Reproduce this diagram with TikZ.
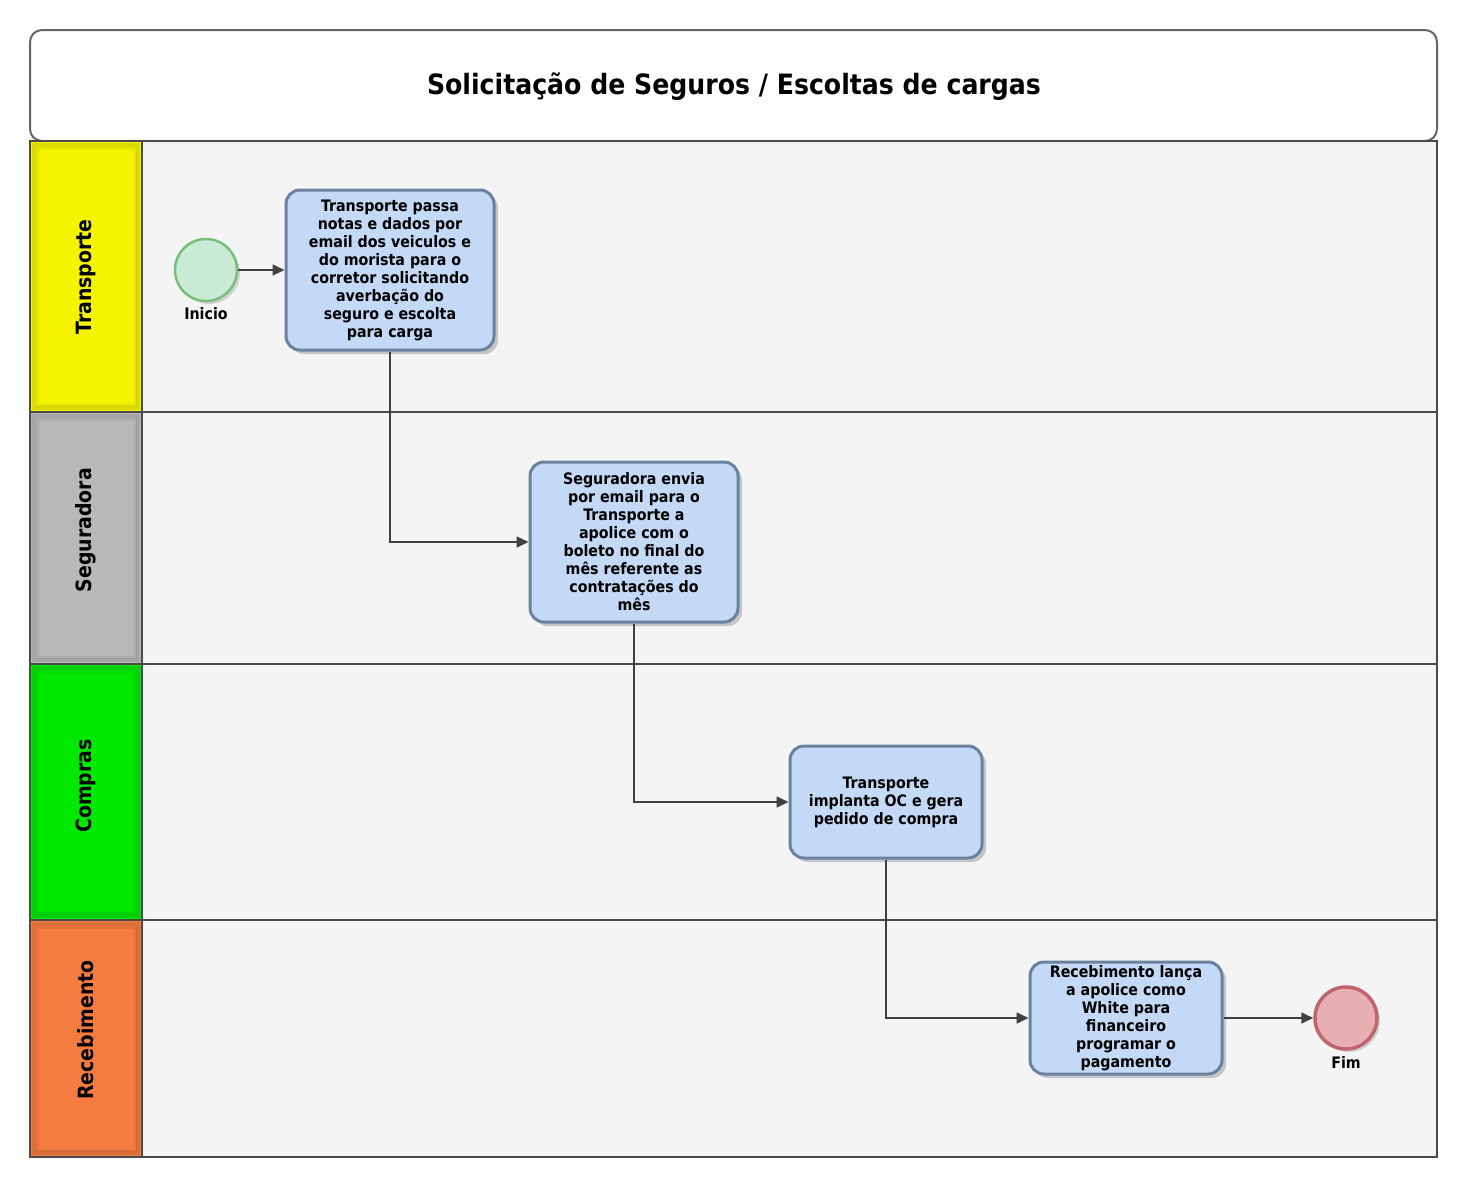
\documentclass[tikz,border=0pt]{standalone}
\usepackage{fontspec}
\setmainfont{DejaVu Sans Condensed}
\usetikzlibrary{shadows,arrows.meta}
\definecolor{laneline}{HTML}{4A4A4A}
\definecolor{lanebg}{HTML}{F4F4F4}
\definecolor{ytr}{HTML}{F4F400}
\definecolor{gse}{HTML}{B8B8B8}
\definecolor{gco}{HTML}{00E800}
\definecolor{ore}{HTML}{F47C40}
\definecolor{taskfill}{HTML}{C3D9F5}
\definecolor{taskdraw}{HTML}{6A82A0}
\definecolor{startfill}{HTML}{C9EBD6}
\definecolor{startdraw}{HTML}{78C07A}
\definecolor{endfill}{HTML}{E8B0B2}
\definecolor{enddraw}{HTML}{C0646E}
\definecolor{arrowc}{HTML}{404040}
\tikzset{
  taskbox/.style={draw=taskdraw, line width=3pt, fill=taskfill, rounded corners=14pt,
    drop shadow={shadow xshift=4pt, shadow yshift=-4pt, fill=black!35, opacity=0.6},
    align=center, font=\bfseries\fontsize{15.8}{18}\selectfont, inner sep=0pt},
  evstart/.style={circle, draw=startdraw, line width=2.5pt, fill=startfill, minimum size=62pt, inner sep=0pt,
    drop shadow={shadow xshift=3pt, shadow yshift=-3pt, fill=black!30, opacity=0.5}},
  evend/.style={circle, draw=enddraw, line width=3.5pt, fill=endfill, minimum size=62pt, inner sep=0pt,
    drop shadow={shadow xshift=3pt, shadow yshift=-3pt, fill=black!30, opacity=0.5}},
  evlabel/.style={font=\bfseries\fontsize{15.8}{18}\selectfont},
  flow/.style={draw=arrowc, line width=1.6pt, -{Triangle[length=12pt,width=11pt]}},
  lanelabel/.style={rotate=90, font=\bfseries\fontsize{21}{24}\selectfont},
}
\begin{document}
\begin{tikzpicture}[x=1pt,y=-1pt]
\useasboundingbox (0,0) rectangle (1480,1189);
\fill[white] (0,0) rectangle (1480,1189);
% title
\draw[draw=black!60, line width=2pt, fill=white, rounded corners=12pt] (30,30) rectangle (1437,141);
\node[font=\bfseries\fontsize{28}{32}\selectfont] (title) at (734,87) {Solicitação de Seguros / Escoltas de cargas};
% lanes background
\fill[lanebg] (142,141) rectangle (1437,1157);
% lane headers
\fill[ytr] (30,141) rectangle (142,412);
\fill[gse] (30,412) rectangle (142,664);
\fill[gco] (30,664) rectangle (142,920);
\fill[ore] (30,920) rectangle (142,1157);
\foreach \a/\b in {141/412,412/664,664/920,920/1157}{
  \draw[black, opacity=0.10, line width=4pt] (34,\a+4) rectangle (138,\b-4);
  \draw[black, opacity=0.06, line width=3pt] (37,\a+7) rectangle (135,\b-7);
}
\draw[laneline, line width=2.5pt] (30,141) rectangle (1437,1157);
\draw[laneline, line width=2.5pt] (142,141) -- (142,1157);
\foreach \y in {412,664,920}{ \draw[laneline, line width=2pt] (30,\y) -- (1437,\y); }
\node[lanelabel] (l1) at (86,277) {Transporte};
\node[lanelabel] (l2) at (86,530) {Seguradora};
\node[lanelabel] (l3) at (86,786) {Compras};
\node[lanelabel] (l4) at (86,1030) {Recebimento};
% events
\node[evstart] (start) at (206,270) {};
\node[evlabel] (startlbl) at (206,314) {Inicio};
\node[evend] (end) at (1346,1018) {};
\node[evlabel] (endlbl) at (1346,1062) {Fim};
% tasks
\node[taskbox, minimum width=208pt, minimum height=160pt] (t1) at (390,270)
  {Transporte passa\\notas e dados por\\email dos veiculos e\\do morista para o\\corretor solicitando\\averbação do\\seguro e escolta\\para carga};
\node[taskbox, minimum width=208pt, minimum height=160pt] (t2) at (634,542)
  {Seguradora envia\\por email para o\\Transporte a\\apolice com o\\boleto no final do\\mês referente as\\contratações do\\mês};
\node[taskbox, minimum width=192pt, minimum height=112pt] (t3) at (886,802)
  {Transporte\\implanta OC e gera\\pedido de compra};
\node[taskbox, minimum width=192pt, minimum height=112pt] (t4) at (1126,1018)
  {Recebimento lança\\a apolice como\\White para\\financeiro\\programar o\\pagamento};
% flows
\draw[flow] (start) -- (t1);
\draw[flow] (t1.south) |- (t2.west);
\draw[flow] (t2.south) |- (t3.west);
\draw[flow] (t3.south) |- (t4.west);
\draw[flow] (t4) -- (end);
\end{tikzpicture}
\end{document}
